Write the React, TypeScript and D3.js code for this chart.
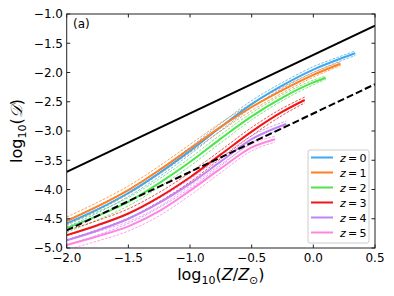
import * as d3 from "d3";

// log10(Z/Zsun) sample positions and log10(D) values
const blueX = [-2, -1.75, -1.5, -1.25, -1, -0.75, -0.5, -0.25, 0, 0.25, 0.34];
const blueMid = [-4.58, -4.34, -4.06, -3.72, -3.34, -2.93, -2.54, -2.22, -1.95, -1.74, -1.67];
const blueHi = [-4.52, -4.28, -4.0, -3.66, -3.28, -2.87, -2.48, -2.17, -1.9, -1.7, -1.63];
const blueLo = [-4.64, -4.4, -4.12, -3.78, -3.4, -2.99, -2.6, -2.27, -2.0, -1.78, -1.71];

const orangeX = [-2, -1.75, -1.5, -1.25, -1, -0.75, -0.5, -0.25, 0, 0.22];
const orangeMid = [-4.54, -4.29, -4.01, -3.67, -3.3, -2.93, -2.59, -2.3, -2.04, -1.85];
const orangeHi = [-4.47, -4.22, -3.94, -3.6, -3.23, -2.86, -2.53, -2.25, -2.0, -1.82];
const orangeLo = [-4.61, -4.36, -4.08, -3.74, -3.37, -3.0, -2.65, -2.35, -2.08, -1.88];

const greenX = [-2, -1.75, -1.5, -1.25, -1, -0.75, -0.5, -0.25, 0, 0.1];
const greenMid = [-4.66, -4.45, -4.21, -3.89, -3.53, -3.13, -2.75, -2.43, -2.17, -2.09];
const greenHi = [-4.59, -4.38, -4.14, -3.82, -3.46, -3.06, -2.69, -2.38, -2.13, -2.06];
const greenLo = [-4.73, -4.52, -4.28, -3.96, -3.6, -3.2, -2.81, -2.48, -2.21, -2.12];

const redX = [-2, -1.75, -1.5, -1.25, -1, -0.75, -0.5, -0.25, -0.07];
const redMid = [-4.78, -4.61, -4.41, -4.13, -3.79, -3.4, -3.01, -2.67, -2.47];
const redHi = [-4.7, -4.53, -4.33, -4.05, -3.71, -3.33, -2.94, -2.61, -2.42];
const redLo = [-4.86, -4.69, -4.49, -4.21, -3.87, -3.47, -3.08, -2.73, -2.52];

const purpleX = [-2, -1.75, -1.5, -1.25, -1, -0.75, -0.5, -0.22];
const purpleMid = [-4.87, -4.7, -4.5, -4.23, -3.9, -3.52, -3.14, -2.88];
const purpleHi = [-4.79, -4.62, -4.42, -4.15, -3.82, -3.45, -3.08, -2.83];
const purpleLo = [-4.95, -4.78, -4.58, -4.31, -3.98, -3.59, -3.2, -2.93];

const pinkX = [-2, -1.75, -1.5, -1.25, -1, -0.75, -0.5, -0.31];
const pinkMid = [-4.95, -4.8, -4.63, -4.37, -4.02, -3.64, -3.28, -3.14];
const pinkHi = [-4.87, -4.72, -4.55, -4.29, -3.94, -3.57, -3.22, -3.09];
const pinkLo = [-5.03, -4.88, -4.71, -4.45, -4.1, -3.71, -3.34, -3.19];

const refX = [-2, 0.5];
const refSolid = [-3.7, -1.2];
const refDashed = [-4.7, -2.2];

const labels = ["0", "1", "2", "3", "4", "5"];
const xTicks = [-2.0, -1.5, -1.0, -0.5, 0.0, 0.5];
const yTicks = [-5.0, -4.5, -4.0, -3.5, -3.0, -2.5, -2.0, -1.5, -1.0];

const series = [
  { c: "#3fa8f0", x: blueX, mid: blueMid, hi: blueHi, lo: blueLo },
  { c: "#ff8020", x: orangeX, mid: orangeMid, hi: orangeHi, lo: orangeLo },
  { c: "#4fe34f", x: greenX, mid: greenMid, hi: greenHi, lo: greenLo },
  { c: "#f01414", x: redX, mid: redMid, hi: redHi, lo: redLo },
  { c: "#c184f7", x: purpleX, mid: purpleMid, hi: purpleHi, lo: purpleLo },
  { c: "#ff85e0", x: pinkX, mid: pinkMid, hi: pinkHi, lo: pinkLo },
];

const W = 394;
const H = 296;
const L = 66.7, R = 375, T = 14, B = 248;
const font = "DejaVu Sans, sans-serif";

export default function App() {
  const x = d3.scaleLinear().domain([-2, 0.5]).range([L, R]);
  const y = d3.scaleLinear().domain([-5, -1]).range([B, T]);
  const path = (xs: number[], ys: number[]) =>
    d3
      .line<number>()
      .x((_, i) => x(xs[i]))
      .y((d) => y(d))
      .curve(d3.curveMonotoneX)(ys) || "";
  const fmt = (v: number) => (v < 0 ? "\u2212" : "") + Math.abs(v).toFixed(1);

  return (
    <svg
      width={W}
      height={H}
      style={{ position: "fixed", left: 0, top: 0, background: "#fff" }}
      fontFamily={font}
    >
      <defs>
        <clipPath id="plot">
          <rect x={L} y={T} width={R - L} height={B - T} />
        </clipPath>
      </defs>
      <g clipPath="url(#plot)">
        {series.map((s, i) => (
          <g key={i}>
            <path d={path(s.x, s.hi)} fill="none" stroke={s.c} strokeWidth={0.9} strokeDasharray="2.6,1.4" opacity={0.85} />
            <path d={path(s.x, s.lo)} fill="none" stroke={s.c} strokeWidth={0.9} strokeDasharray="2.6,1.4" opacity={0.85} />
          </g>
        ))}
        {series.map((s, i) => (
          <path key={i} d={path(s.x, s.mid)} fill="none" stroke={s.c} strokeWidth={2} />
        ))}
        <path d={path(refX, refSolid)} fill="none" stroke="#000" strokeWidth={2} />
        <path d={path(refX, refDashed)} fill="none" stroke="#000" strokeWidth={2} strokeDasharray="7,3" />
      </g>

      <rect x={L} y={T} width={R - L} height={B - T} fill="none" stroke="#222" strokeWidth={1} />

      {xTicks.map((t) => (
        <g key={t}>
          <line x1={x(t)} x2={x(t)} y1={B} y2={B - 3.5} stroke="#222" />
          <line x1={x(t)} x2={x(t)} y1={T} y2={T + 3.5} stroke="#222" />
          <text x={x(t)} y={262} textAnchor="middle" fontSize={12} fill="#000">
            {fmt(t)}
          </text>
        </g>
      ))}
      {yTicks.map((t) => (
        <g key={t}>
          <line x1={L} x2={L + 3.5} y1={y(t)} y2={y(t)} stroke="#222" />
          <line x1={R} x2={R - 3.5} y1={y(t)} y2={y(t)} stroke="#222" />
          <text x={63} y={y(t) + 4.3} textAnchor="end" fontSize={12} fill="#000">
            {fmt(t)}
          </text>
        </g>
      ))}

      <text x={73} y={28} fontSize={12}>(a)</text>

      <text x={(L + R) / 2} y={280} textAnchor="middle" fontSize={16}>
        log
        <tspan fontSize={11} dy={4}>10</tspan>
        <tspan dy={-4}>(</tspan>
        <tspan fontStyle="italic">Z</tspan>/<tspan fontStyle="italic">Z</tspan>
        <tspan fontSize={11} dy={4}>{"\u2299"}</tspan>
        <tspan dy={-4}>)</tspan>
      </text>

      <text
        transform={`translate(22,${(T + B) / 2}) rotate(-90)`}
        textAnchor="middle"
        fontSize={16}
      >
        log
        <tspan fontSize={11} dy={4}>10</tspan>
        <tspan dy={-4}>(</tspan>
        <tspan fontStyle="italic">{"\uD835\uDC9F"}</tspan>)
      </text>

      <g>
        <rect x={308} y={150} width={61} height={93} rx={2} fill="#fff" fillOpacity={0.8} stroke="#ccc" strokeWidth={1} />
        {series.map((s, i) => (
          <g key={i}>
            <line x1={311} x2={333} y1={157.5 + i * 15} y2={157.5 + i * 15} stroke={s.c} strokeWidth={2} />
            <text x={340} y={161.5 + i * 15} fontSize={11}>
              <tspan fontStyle="italic">z</tspan>
              {"\u2009=\u2009" + labels[i]}
            </text>
          </g>
        ))}
      </g>
    </svg>
  );
}
